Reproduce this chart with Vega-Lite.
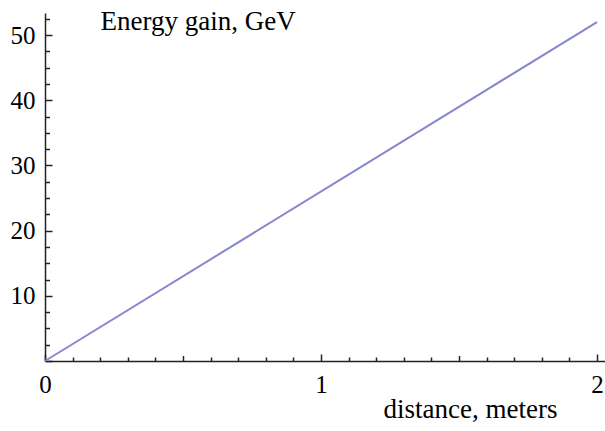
{
  "$schema": "https://vega.github.io/schema/vega-lite/v6.json",
  "width": 560,
  "height": 348,
  "autosize": "none",
  "padding": {"left": 45, "top": 13, "right": 0, "bottom": 70},
  "background": "white",
  "config": {"view": {"stroke": null}, "font": "Times New Roman, Liberation Serif, serif"},
  "data": {"values": [{"distance": 0, "energy": 0}, {"distance": 2, "energy": 52}]},
  "mark": {"type": "line", "color": "#8787cf", "strokeWidth": 2},
  "encoding": {
    "x": {
      "field": "distance",
      "type": "quantitative",
      "scale": {"domain": [0, 2.029], "nice": false, "zero": false},
      "axis": {
        "title": "distance, meters",
        "orient": "bottom",
        "values": [0, 0.1, 0.2, 0.3, 0.4, 0.5, 0.6, 0.7, 0.8, 0.9, 1, 1.1, 1.2, 1.3, 1.4, 1.5, 1.6, 1.7, 1.8, 1.9, 2],
        "labelExpr": "abs(datum.value - round(datum.value)) < 0.001 ? format(datum.value, 'd') : ''",
        "grid": false,
        "domainColor": "#222222",
        "domainWidth": 1.5,
        "tickColor": "#222222",
        "tickWidth": 1.5,
        "tickSize": {"condition": [{"test": "abs(datum.value - round(datum.value)) < 0.001", "value": -7}, {"test": "abs(datum.value * 2 - round(datum.value * 2)) < 0.001", "value": -5.5}], "value": -4},
        "labelFont": "Times New Roman, Liberation Serif, serif",
        "labelFontSize": 25,
        "labelColor": "black",
        "labelPadding": 18,
        "labelFlush": false,
        "labelOverlap": false,
        "titleFont": "Times New Roman, Liberation Serif, serif",
        "titleFontSize": 27,
        "titleFontWeight": "normal",
        "titleColor": "black",
        "titleAlign": "right",
        "titleBaseline": "alphabetic",
        "titleX": 512,
        "titleY": 56
      }
    },
    "y": {
      "field": "energy",
      "type": "quantitative",
      "scale": {"domain": [0, 53.4], "nice": false, "zero": false},
      "axis": {
        "title": "Energy gain, GeV",
        "orient": "left",
        "values": [0, 2.5, 5, 7.5, 10, 12.5, 15, 17.5, 20, 22.5, 25, 27.5, 30, 32.5, 35, 37.5, 40, 42.5, 45, 47.5, 50, 52.5],
        "labelExpr": "datum.value % 10 === 0 && datum.value > 0 ? format(datum.value, 'd') : ''",
        "grid": false,
        "domainColor": "#222222",
        "domainWidth": 1.5,
        "tickColor": "#222222",
        "tickWidth": 1.5,
        "tickSize": {"condition": {"test": "datum.value % 10 === 0", "value": -7}, "value": -4.5},
        "labelFont": "Times New Roman, Liberation Serif, serif",
        "labelFontSize": 25,
        "labelColor": "black",
        "labelPadding": 17,
        "labelFlush": false,
        "labelOverlap": false,
        "titleFont": "Times New Roman, Liberation Serif, serif",
        "titleFontSize": 27,
        "titleFontWeight": "normal",
        "titleColor": "black",
        "titleAngle": 0,
        "titleAlign": "left",
        "titleBaseline": "alphabetic",
        "titleX": 55,
        "titleY": 16
      }
    }
  }
}
